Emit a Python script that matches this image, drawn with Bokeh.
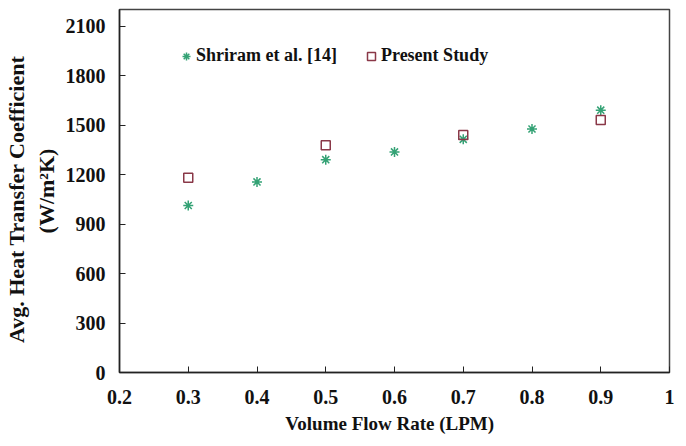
from bokeh.plotting import figure
from bokeh.models import Range1d, FixedTicker, Legend, LegendItem
from bokeh.embed import file_html
from bokeh.resources import INLINE

flow_shriram = [0.3, 0.4, 0.5, 0.6, 0.7, 0.8, 0.9]
htc_shriram = [1012, 1155, 1290, 1337, 1413, 1476, 1590]
flow_present = [0.3, 0.5, 0.7, 0.9]
htc_present = [1180, 1378, 1440, 1530]
x_ticks = [0.2, 0.3, 0.4, 0.5, 0.6, 0.7, 0.8, 0.9, 1.0]
y_ticks = [0, 300, 600, 900, 1200, 1500, 1800, 2100]

FONT = "Liberation Serif"

p = figure(width=680, height=440, output_backend="svg", toolbar_location=None,
           x_range=Range1d(0.2, 1.0), y_range=Range1d(0, 2200),
           min_border_left=119, min_border_right=11, min_border_top=9, min_border_bottom=68)
p.grid.visible = False
p.outline_line_color = "#444444"
p.outline_line_width = 1.5

g = p.scatter(flow_shriram, htc_shriram, marker="asterisk", size=10,
              line_color="#34a275", line_width=1.5)
r = p.scatter(flow_present, htc_present, marker="square", size=9,
              line_color="#8a3848", fill_color=None, line_width=1.5)

for ax in (p.xaxis[0], p.yaxis[0]):
    ax.axis_line_color = "#222222"
    ax.axis_line_width = 1.5
    ax.major_tick_in = 6
    ax.major_tick_out = 0
    ax.minor_tick_line_color = None
    ax.major_tick_line_color = "#222222"
    ax.major_label_text_font = FONT
    ax.major_label_text_font_style = "bold"
    ax.major_label_text_font_size = "20px"
    ax.major_label_text_color = "#111111"
    ax.axis_label_text_font = FONT
    ax.axis_label_text_font_style = "bold"
    ax.axis_label_text_color = "#111111"

p.xaxis.ticker = FixedTicker(ticks=x_ticks)
p.xaxis.major_label_overrides = {1.0: "1"}
p.yaxis.ticker = FixedTicker(ticks=y_ticks)
p.xaxis.axis_label = "Volume  Flow  Rate (LPM)"
p.xaxis.axis_label_text_font_size = "19px"
p.xaxis.major_label_standoff = 17
p.xaxis.axis_label_standoff = 6
p.yaxis.axis_label = "Avg.  Heat  Transfer  Coefficient\n(W/m\u00b2K)"
p.yaxis.axis_label_text_font_size = "22px"
p.yaxis.major_label_standoff = 14
p.yaxis.axis_label_standoff = 4

legend = Legend(items=[LegendItem(label="Shriram et al. [14]", renderers=[g]),
                       LegendItem(label="Present Study", renderers=[r])],
                orientation="horizontal", location=(57, 306),
                border_line_color=None, background_fill_alpha=0,
                label_text_font=FONT, label_text_font_style="bold",
                label_text_font_size="18px", label_text_color="#111111",
                glyph_width=20, glyph_height=20, spacing=24, label_standoff=0,
                margin=0, padding=0)
p.add_layout(legend)

open("out.html", "w").write(file_html(p, INLINE))
